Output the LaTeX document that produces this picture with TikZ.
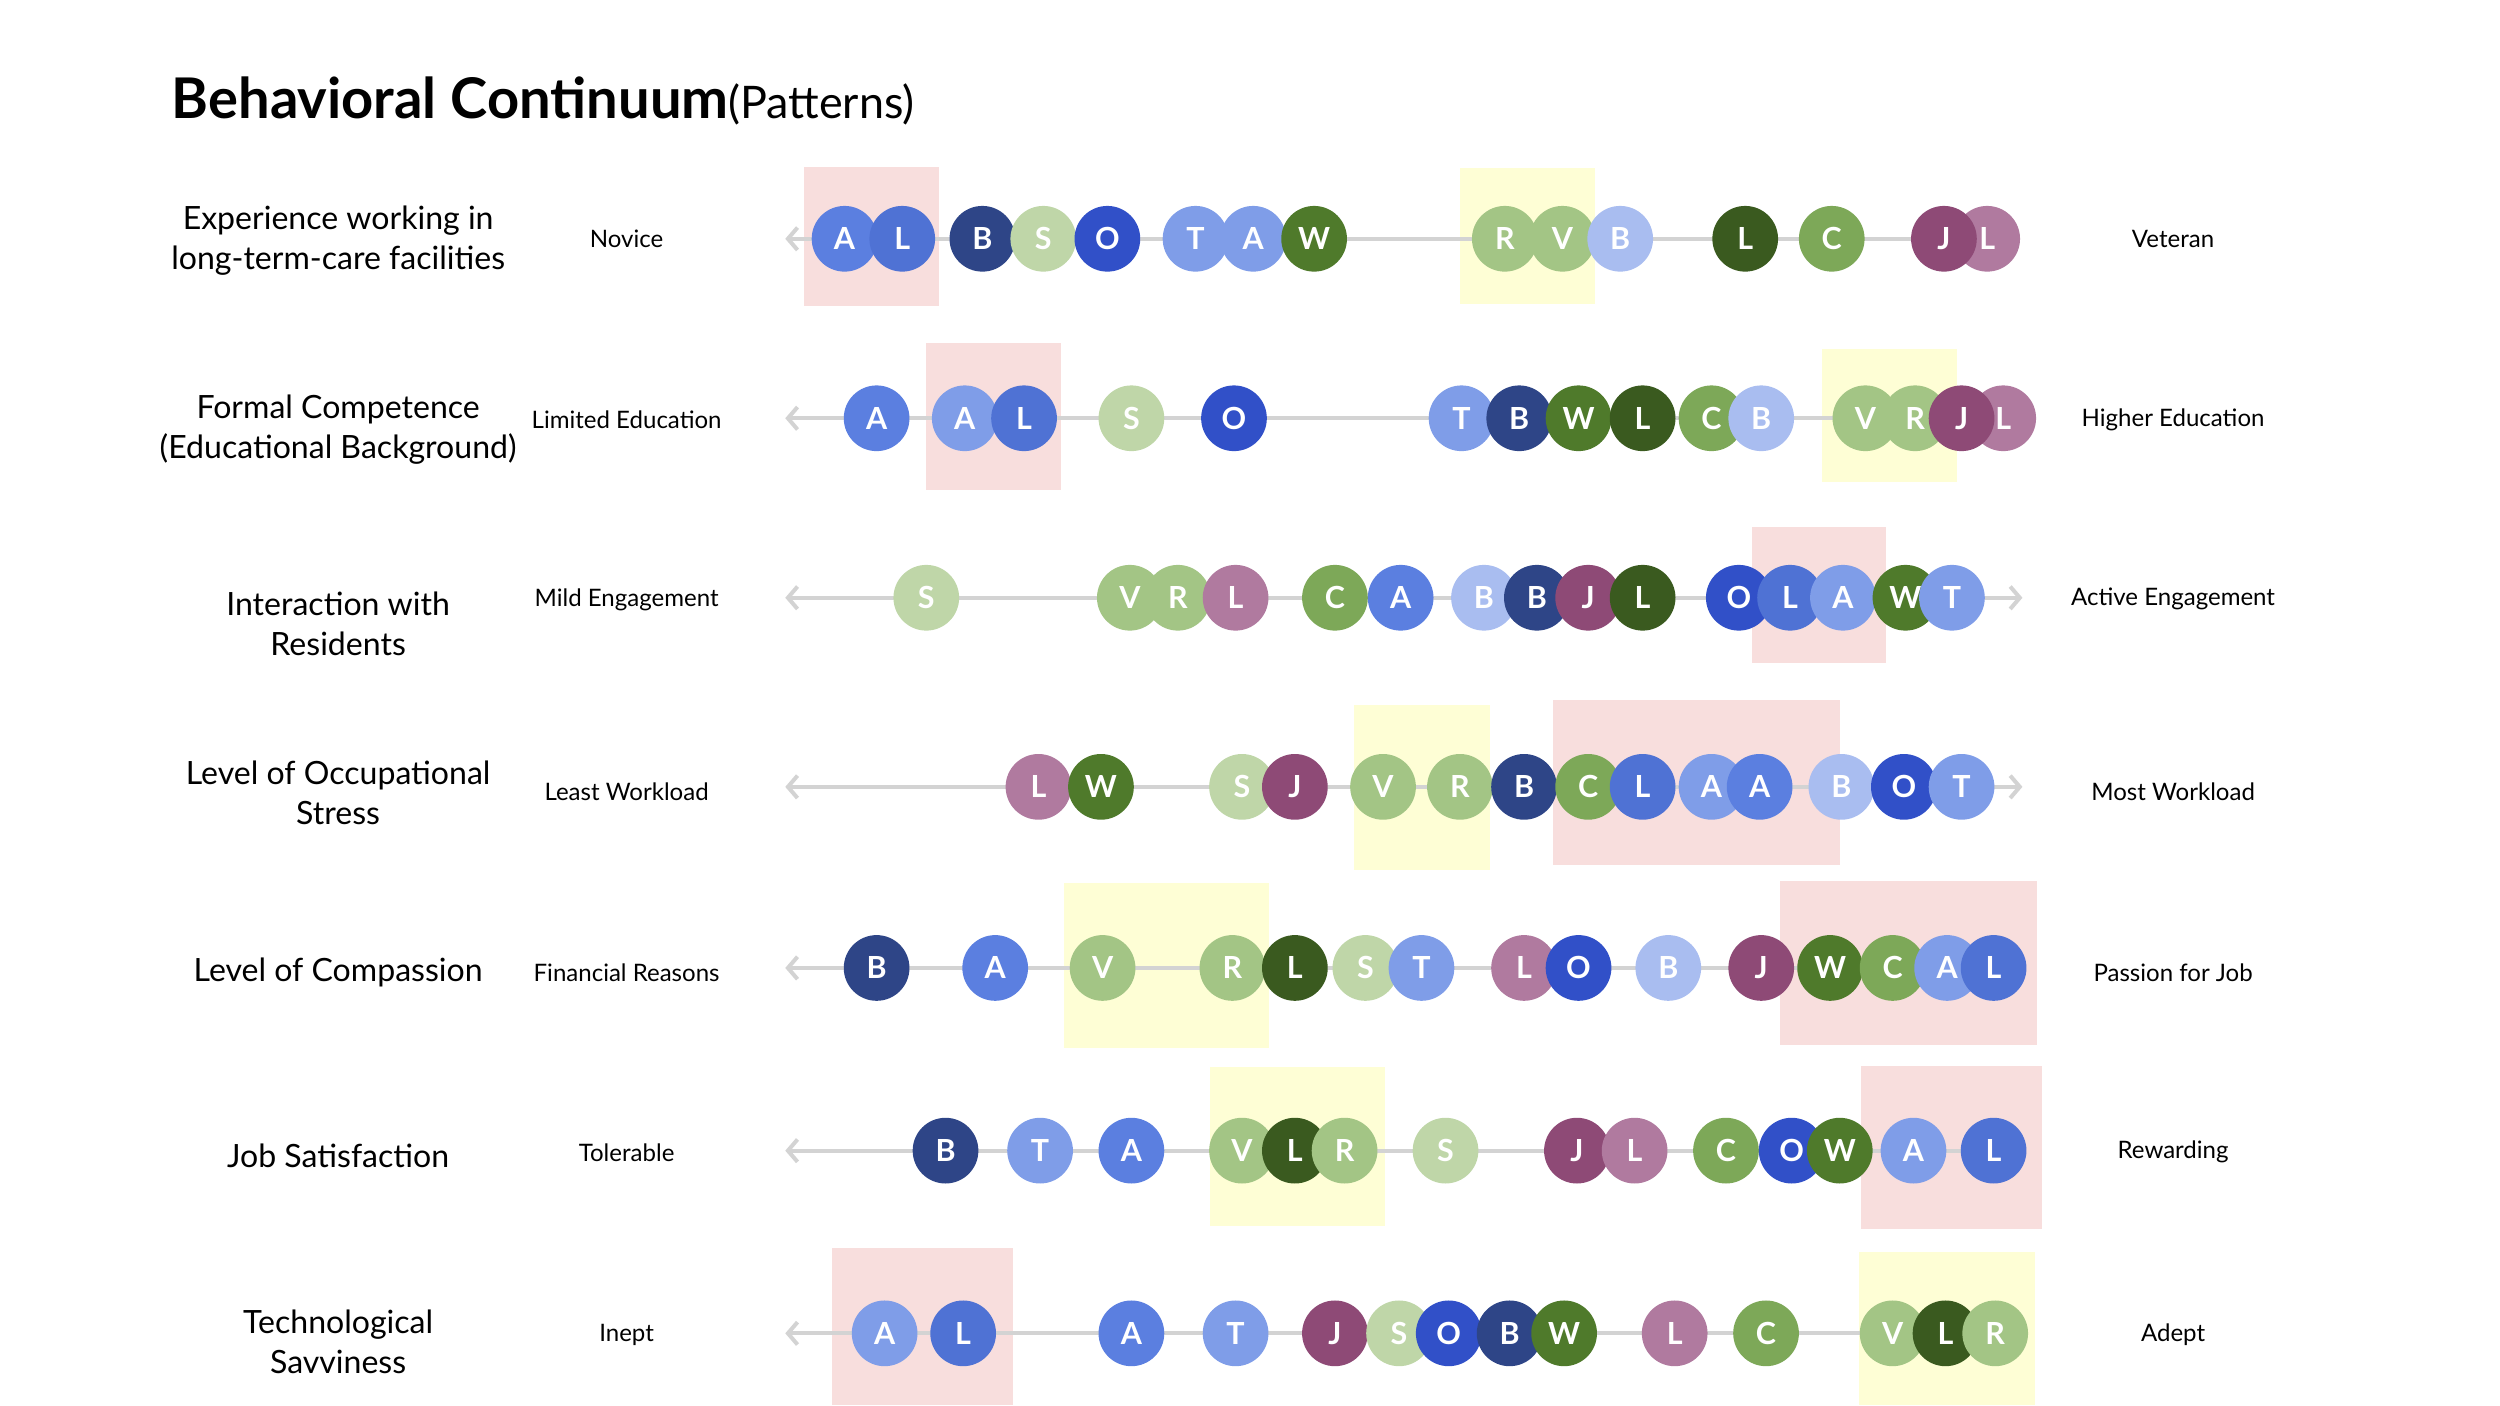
\documentclass[tikz,border=0pt]{standalone}
\usepackage{fontspec}
\setmainfont{Lato}
\usetikzlibrary{arrows.meta}
\definecolor{ablue}{HTML}{5B7FE0}
\definecolor{lblue}{HTML}{4F72D4}
\definecolor{tblue}{HTML}{7F9DE8}
\definecolor{navy}{HTML}{2E4587}
\definecolor{bpale}{HTML}{A9BDF0}
\definecolor{oblue}{HTML}{3150C8}
\definecolor{sgreen}{HTML}{BFD6A8}
\definecolor{vgreen}{HTML}{A3C585}
\definecolor{cgreen}{HTML}{7DA858}
\definecolor{wgreen}{HTML}{4F7A2B}
\definecolor{dgreen}{HTML}{3A5A1F}
\definecolor{jplum}{HTML}{8E4A76}
\definecolor{lpink}{HTML}{B07A9F}
\definecolor{pinkbox}{HTML}{F8DEDD}
\definecolor{yelbox}{HTML}{FEFED5}
\definecolor{axis}{HTML}{D3D3D3}
\tikzset{
  dot/.style={circle,minimum size=41pt,inner sep=0pt,text=white,font=\fontsize{19}{19}\selectfont\bfseries},
  leftlab/.style={align=center,font=\fontsize{20}{25}\selectfont},
  midlab/.style={font=\fontsize{15}{18}\selectfont},
  axisline/.style={draw=axis,line width=2.5pt},
  pbox/.style={fill=pinkbox},
  ybox/.style={fill=yelbox}
}
\newcommand{\mkrow}[3]{%
  \foreach \xx/\lt/\cc [count=\i] in {#3} {
    \node[dot,fill=\cc] (r#1c\i) at (\xx,#2) {\lt};
  }}
\begin{document}
\begin{tikzpicture}[x=1pt,y=-1pt]
\useasboundingbox (0,0) rectangle (1560,877);
\node[anchor=base west,inner sep=0] (title) at (107,74) {\fontsize{35}{35}\selectfont\bfseries Behavioral Continuum\fontsize{28}{28}\mdseries(Patterns)};
% boxes
\fill[pbox] (502,104) rectangle (586,191);
\fill[ybox] (911,105) rectangle (995,190);
\fill[pbox] (578,214) rectangle (662,306);
\fill[ybox] (1137,218) rectangle (1221,301);
\fill[pbox] (1093,329) rectangle (1177,414);
\fill[ybox] (845,440) rectangle (930,543);
\fill[pbox] (969,437) rectangle (1148,540);
\fill[ybox] (664,551) rectangle (792,654);
\fill[pbox] (1111,550) rectangle (1271,652);
\fill[ybox] (755,666) rectangle (864,765);
\fill[pbox] (1161,665) rectangle (1274,767);
\fill[pbox] (519,779) rectangle (632,877);
\fill[ybox] (1160,781) rectangle (1270,877);
% axis coordinates
\foreach \y [count=\i] in {149,261,373,491,604,718,832} {
  \coordinate (la\i) at (490,\y);
  \coordinate (ra\i) at (1262,\y);
}
\draw[axisline,-{Straight Barb[length=6pt,width=14pt]}] (1240,149) -- (la1);
\draw[axisline,-{Straight Barb[length=6pt,width=14pt]}] (1250,261) -- (la2);
\draw[axisline,{Straight Barb[length=6pt,width=14pt]}-{Straight Barb[length=6pt,width=14pt]}] (la3) -- (ra3);
\draw[axisline,{Straight Barb[length=6pt,width=14pt]}-{Straight Barb[length=6pt,width=14pt]}] (la4) -- (ra4);
\draw[axisline,-{Straight Barb[length=6pt,width=14pt]}] (1244,604) -- (la5);
\draw[axisline,-{Straight Barb[length=6pt,width=14pt]}] (1244,718) -- (la6);
\draw[axisline,-{Straight Barb[length=6pt,width=14pt]}] (1245,832) -- (la7);
% rows
\mkrow{1}{149}{527/A/ablue,563/L/lblue,613/B/navy,651/S/sgreen,691/O/oblue,746/T/tblue,782/A/tblue,820/W/wgreen,939/R/vgreen,975/V/vgreen,1011/B/bpale,1089/L/dgreen,1143/C/cgreen,1240/L/lpink,1213/J/jplum}
\mkrow{2}{261}{547/A/ablue,602/A/tblue,639/L/lblue,706/S/sgreen,770/O/oblue,912/T/tblue,948/B/navy,985/W/wgreen,1025/L/dgreen,1068/C/cgreen,1099/B/bpale,1164/V/vgreen,1195/R/vgreen,1250/L/lpink,1224/J/jplum}
\mkrow{3}{373}{578/S/sgreen,705/V/vgreen,735/R/vgreen,771/L/lpink,833/C/cgreen,874/A/ablue,926/B/bpale,959/B/navy,991/J/jplum,1025/L/dgreen,1085/O/oblue,1117/L/lblue,1150/A/tblue,1189/W/wgreen,1218/T/tblue}
\mkrow{4}{491}{648/L/lpink,687/W/wgreen,775/S/sgreen,808/J/jplum,863/V/vgreen,911/R/vgreen,951/B/navy,991/C/cgreen,1025/L/lblue,1068/A/tblue,1098/A/ablue,1149/B/bpale,1188/O/oblue,1224/T/tblue}
\mkrow{5}{604}{547/B/navy,621/A/ablue,688/V/vgreen,769/R/vgreen,808/L/dgreen,852/S/sgreen,887/T/tblue,951/L/lpink,985/O/oblue,1041/B/bpale,1099/J/jplum,1142/W/wgreen,1181/C/cgreen,1215/A/tblue,1244/L/lblue}
\mkrow{6}{718}{590/B/navy,649/T/tblue,706/A/ablue,775/V/vgreen,808/L/dgreen,839/R/vgreen,902/S/sgreen,984/J/jplum,1020/L/lpink,1077/C/cgreen,1118/O/oblue,1148/W/wgreen,1194/A/tblue,1244/L/lblue}
\mkrow{7}{832}{552/A/tblue,601/L/lblue,706/A/ablue,771/T/tblue,833/J/jplum,873/S/sgreen,904/O/oblue,942/B/navy,976/W/wgreen,1045/L/lpink,1102/C/cgreen,1181/V/vgreen,1214/L/dgreen,1245/R/vgreen}
% left labels
\node[leftlab] (l1) at (211,150) {Experience working in\\long-term-care facilities};
\node[leftlab] (l2) at (211,268) {Formal Competence\\(Educational Background)};
\node[leftlab] (l3) at (211,389) {Interaction with\\Residents};
\node[leftlab] (l4) at (211,495) {Level of Occupational\\Stress};
\node[leftlab] (l5) at (211,607) {Level of Compassion};
\node[leftlab] (l6) at (211,721) {Job Satisfaction};
\node[leftlab] (l7) at (211,837) {Technological\\Savviness};
% middle labels
\foreach \t/\y [count=\i] in {Novice/149,Limited Education/262,Mild Engagement/374,Least Workload/494,Financial Reasons/607,Tolerable/719,Inept/833}
  \node[midlab] (m\i) at (391,\y) {\t};
\foreach \t/\y [count=\i] in {Veteran/149,Higher Education/262,Active Engagement/374,Most Workload/494,Passion for Job/607,Rewarding/719,Adept/833}
  \node[midlab] (e\i) at (1356,\y) {\t};
\end{tikzpicture}
\end{document}
